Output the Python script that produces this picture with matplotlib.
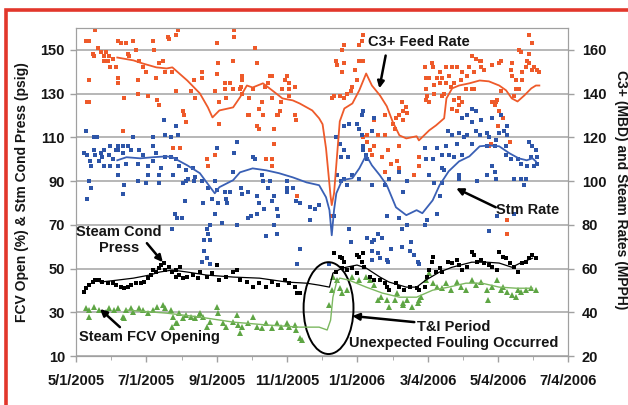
import numpy as np
import pandas as pd
import matplotlib
matplotlib.use("Agg")
import matplotlib.pyplot as plt
from matplotlib.patches import Ellipse, Rectangle

plt.rcParams['font.family'] = ['Liberation Sans', 'DejaVu Sans']
plt.rcParams['font.weight'] = 'bold'

# x values are days since 5/1/2005
start = pd.Timestamp("2005-05-01")
tick_labels = ["5/1/2005", "7/1/2005", "9/1/2005", "11/1/2005",
               "1/1/2006", "3/4/2006", "5/4/2006", "7/4/2006"]

# C3+ feed rate (MBD, right axis) - daily readings
c3_days = [17, 9, 11, 15, 16, 19, 22, 24, 24, 26, 28, 29, 30, 32, 35, 37, 39, 44, 45, 46,
           50, 52, 55, 58, 61, 67, 68, 72, 76, 78, 80, 81, 87, 89, 11, 11, 10, 37, 37, 42,
           54, 54, 63, 70, 71, 72, 84, 87, 93, 94, 96, 41, 85, 91, 100, 103, 104,
           138, 138, 123, 156, 137, 158, 124, 110, 110, 123, 145, 130, 134, 145, 144, 130, 121,
           137, 143, 145, 154, 169, 171, 184, 182, 186, 180, 186, 191, 186, 171, 165, 167,
           131, 125, 151, 162, 160, 179, 178, 176, 175, 191, 192, 150, 151, 163, 158, 160, 173,
           125, 173, 114, 115, 121, 166, 171, 171, 193,
           223, 250, 249, 247, 234, 232, 227, 228, 234, 232, 243, 247, 250, 245, 241, 240, 236,
           225, 230, 234, 223, 284, 288, 285, 289, 282, 279, 285, 269, 276, 278, 260, 263, 269,
           254, 250, 254, 256, 260, 267, 272, 258, 269, 275, 280, 282, 282, 299, 299, 295,
           310, 308, 305, 306, 312, 315, 317, 319, 305, 312, 304, 308, 311, 317, 332, 345, 352,
           353, 369, 380, 386, 395, 398, 395, 399, 402, 404, 395, 384, 386, 367, 369, 372, 366,
           334, 337, 332, 330, 305, 368, 362, 378, 360, 376, 376,
           349, 353, 328, 323, 325, 319, 337, 343, 347, 356, 341, 336, 323, 327, 340, 345, 347,
           321, 330, 334, 328, 363, 371, 379, 380, 389, 392, 393, 398, 389, 384, 382, 371, 363,
           365, 388]
c3_vals = [169, 164, 164, 158, 157, 161, 159, 157, 155, 159, 155, 157, 152, 156, 152, 164, 163, 163, 158, 157,
           164, 160, 155, 152, 150, 164, 160, 154, 155, 150, 166, 165, 167, 169, 146, 136, 136, 147, 145, 138,
           146, 140, 139, 147, 137, 135, 150, 141, 132, 130, 127, 123, 115, 115, 141, 146, 138,
           169, 166, 163, 161, 155, 154, 154, 150, 147, 149, 148, 145, 145, 146, 143, 142, 141,
           142, 142, 140, 142, 148, 148, 148, 146, 145, 142, 142, 143, 139, 138, 143, 145,
           138, 136, 138, 136, 133, 136, 132, 130, 130, 130, 128, 130, 130, 130, 125, 124, 124,
           126, 117, 110, 107, 112, 110, 110, 107, 93,
           84, 167, 164, 162, 162, 160, 155, 153, 154, 150, 151, 155, 155, 146, 143, 141, 140,
           139, 139, 138, 138, 136, 134, 132, 131, 130, 129, 128, 130, 126, 124, 128, 121, 121,
           121, 120, 118, 114, 116, 111, 114, 112, 104, 108, 109, 106, 116, 111, 107, 103,
           154, 147, 142, 139, 140, 147, 150, 139, 147, 144, 152, 136, 152, 145, 152, 157, 155,
           152, 154, 154, 160, 167, 163, 158, 152, 151, 150, 154, 146, 142, 137, 132, 129, 136,
           138, 136, 132, 145, 137, 125, 117, 118, 116, 82, 76,
           156, 155, 152, 152, 148, 147, 150, 152, 150, 151, 148, 146, 145, 143, 142, 142, 142,
           140, 137, 135, 133, 153, 155, 151, 148, 150, 152, 155, 151, 146, 142, 139, 141, 136,
           135, 159]

# Steam rate (MPPH, right axis)
stm_days = [9, 77, 87, 78, 83, 89, 16, 50, 67, 37, 41, 45, 30, 24, 67, 7, 10, 16, 17, 22,
            23, 29, 32, 35, 37, 41, 48, 55, 58, 70, 78, 83, 87, 20, 24, 30, 37, 44, 54, 63,
            67, 74, 90, 96, 13, 102, 104, 98, 103, 11, 13, 37, 54, 63, 72, 72, 85, 42, 61, 93,
            96, 12, 18,
            10, 41, 86, 88, 84, 92, 114, 115, 117, 112, 117, 95, 123,
            123, 140, 138, 137, 154, 156, 162, 163, 169, 110, 121, 184, 115, 130, 134, 144, 150,
            167, 184, 189, 119, 124, 131, 145, 158, 173, 184, 192, 195, 132, 160, 171, 164, 175,
            204, 212, 208, 111,
            127, 140, 150, 153, 158, 173, 175, 166, 176, 112, 114, 117, 110, 195, 193, 121, 204,
            250, 249, 234, 238, 245, 247, 249, 258, 260, 227, 230, 234, 231, 237, 250, 250, 253,
            254, 228, 231, 234, 236, 241, 247, 258, 269, 273, 289, 285, 282, 304, 305, 311, 315,
            312, 319, 308, 319, 317,
            221, 225, 238, 240, 254, 258, 260, 263, 267, 258, 263, 265, 258, 271, 272, 275, 284,
            291, 295, 298, 299, 271, 282, 284, 289, 292, 304, 315, 306,
            345, 349, 341, 337, 345, 353, 363, 371, 376, 373, 376, 369, 358, 352, 349, 341, 334,
            328, 324, 338, 360, 366, 345, 332, 323, 358, 365, 375, 395, 398, 401, 397, 402, 319,
            325, 330, 337, 375, 385, 379, 388, 393, 399, 402, 363, 365, 366, 382, 388, 392, 391,
            321, 334, 334, 350, 358, 367, 382, 360]
stm_vals = [123, 128, 125, 121, 120, 121, 120, 120, 120, 116, 116, 116, 116, 114, 116, 113, 112, 114, 112, 113,
            111, 112, 110, 114, 114, 113, 114, 114, 112, 113, 111, 111, 110, 109, 107, 107, 107, 108, 108, 107,
            109, 106, 107, 105, 107, 106, 102, 101, 100, 100, 97, 103, 100, 103, 103, 99, 103, 98, 99, 99,
            100, 109, 120,
            92, 94, 85, 83, 78, 83, 78, 76, 73, 73, 80, 91, 96,
            115, 118, 113, 104, 111, 110, 103, 100, 100, 100, 100, 100, 97, 95, 95, 97, 95,
            97, 97, 97, 92, 90, 92, 94, 93, 93, 95, 91, 90, 90, 90, 91, 87, 87,
            88, 89, 87, 90,
            81, 80, 83, 84, 85, 80, 76, 75, 84, 68, 65, 62, 63, 69, 62, 85, 82,
            132, 130, 125, 126, 126, 124, 121, 123, 129, 120, 117, 114, 111, 111, 116, 114, 112,
            110, 103, 100, 101, 98, 103, 101, 98, 98, 101, 100, 95, 104, 115, 110, 110, 115,
            99, 99, 103, 106, 93,
            62, 84, 78, 72, 74, 72, 73, 76, 74, 68, 67, 65, 64, 64, 63, 69, 70,
            68, 66, 63, 62, 84, 83, 78, 80, 72, 80, 85, 82,
            133, 132, 130, 129, 127, 128, 129, 130, 125, 123, 121, 122, 122, 121, 123, 121, 122,
            121, 123, 120, 120, 119, 117, 117, 116, 116, 116, 116, 118, 116, 114, 111, 111, 112,
            112, 111, 112, 112, 110, 110, 108, 107, 107, 108, 107, 104, 101, 101, 101, 101, 98,
            105, 103, 101, 100, 103, 84, 85, 77]

# Steam condensate pressure (psig, left axis)
cond_days = [7, 9, 11, 15, 17, 20, 23, 28, 32, 35, 39, 42, 45, 48, 52, 57, 59, 63, 65, 67,
             70, 72, 74, 77, 78, 81, 84, 87, 87, 90, 93, 97, 102, 106, 91, 108, 114, 119, 123, 125,
             131, 137, 140, 143, 149, 154, 160, 166, 171, 176, 182, 186, 191, 193, 195,
             225, 227, 230, 232, 232, 234, 236, 241, 245, 245, 247, 249, 250, 251, 256, 260, 265,
             269, 271, 273, 279, 282, 286, 291, 297, 299, 304, 306, 308, 310, 311, 314, 317, 319,
             324, 328, 332, 334, 337, 341, 345, 347, 350, 353, 356, 360, 363, 367, 369, 372, 375,
             378, 382, 385, 389, 392, 395, 398, 401]
cond_vals = [39.2, 41.0, 42.4, 43.8, 44.7, 44.7, 43.8, 43.3, 43.3, 42.4, 41.5, 41.0, 41.5, 42.4, 43.3, 43.3, 43.8, 45.6, 47.0, 49.3,
             48.4, 50.2, 51.6, 52.5, 49.3, 50.6, 48.4, 49.3, 46.1, 47.0, 45.6, 46.1, 47.0, 45.6, 50.6, 48.4, 46.1, 47.9, 51.6, 44.7,
             46.1, 48.4, 49.3, 44.7, 43.8, 41.5, 43.3, 41.5, 43.8, 42.4, 44.7, 43.3, 41.5, 38.8, 38.8,
             57.0, 48.4, 55.2, 50.2, 54.7, 52.9, 49.3, 50.2, 47.9, 56.1, 55.2, 52.9, 57.0, 50.6, 46.1, 44.7, 44.7,
             43.3, 41.5, 40.1, 43.3, 41.5, 40.1, 41.5, 41.0, 40.1, 41.5, 46.1, 49.3, 52.9, 55.2, 48.4, 50.2, 48.4,
             52.9, 52.5, 53.8, 51.6, 49.3, 50.6, 57.5, 56.1, 52.9, 53.8, 52.5, 51.6, 50.6, 49.3, 57.5, 55.2, 54.7,
             52.5, 50.6, 48.4, 52.5, 52.9, 54.7, 56.1, 54.7]

# Steam FCV opening (%, left axis)
fcv_days = [9, 11, 16, 20, 26, 29, 33, 37, 41, 44, 48, 50, 55, 58, 63, 67, 71, 76, 78, 83,
            85, 87, 90, 93, 96, 100, 104, 107, 11, 42, 108, 111, 114, 117, 123, 124, 128, 131, 137, 140,
            141, 143, 145, 150, 154, 158, 162, 166, 171, 175, 179, 184, 186, 191, 192, 195, 84, 88, 197,
            221, 223, 224, 228, 230, 232, 236, 241, 247, 253, 256, 260, 263, 266, 271, 273, 278, 280,
            285, 289, 293, 298, 301, 305, 308, 311, 315, 319, 285, 299, 323, 327, 332, 336, 340, 345,
            349, 353, 358, 359, 363, 367, 372, 376, 380, 384, 388, 392, 397, 401, 371, 385]
fcv_vals = [31.9, 31.0, 32.4, 31.0, 30.1, 31.9, 31.0, 31.9, 27.8, 31.0, 31.9, 30.1, 31.9, 31.0, 29.6, 31.0, 32.4, 33.3, 31.9, 31.0,
            27.8, 25.1, 29.6, 27.4, 28.7, 27.8, 27.4, 28.7, 27.8, 27.4, 29.6, 27.8, 23.2, 25.5, 32.4, 29.6, 25.1, 23.2, 25.5, 28.7,
            24.2, 20.5, 23.2, 25.1, 27.8, 23.2, 22.8, 25.1, 22.8, 25.1, 23.2, 25.1, 23.2, 24.2, 21.9, 18.2, 23.2, 25.1, 17.3,
            33.3, 40.1, 46.1, 44.7, 41.0, 38.8, 40.1, 46.1, 44.7, 46.1, 44.7, 42.4, 35.6, 36.9, 35.6, 32.4, 35.6, 38.8,
            34.2, 35.6, 32.4, 34.2, 36.9, 44.7, 47.9, 43.3, 41.5, 41.0, 33.3, 35.6, 43.3, 40.1, 43.8, 41.5, 40.1, 44.7,
            42.4, 43.8, 40.1, 35.6, 41.5, 44.7, 41.5, 39.2, 37.9, 36.9, 39.2, 40.1, 41.0, 40.1, 40.1, 40.1]

# moving-average trend lines
c3_avg_days = [36, 50, 58, 70, 79, 84, 97, 108, 115, 119, 125, 137, 143, 149, 154, 163, 171, 180, 189,
               195, 206, 212, 215, 218, 220, 222, 223, 225, 230, 234, 241, 247, 253, 258, 265, 271, 276,
               282, 288, 297, 299, 308, 314, 321, 323, 328, 334, 343, 352, 360, 369, 375, 380, 385, 391,
               397, 401, 404]
c3_avg = [156.5, 155.2, 153.8, 152.0, 151.5, 152.0, 146.0, 140.1, 133.7, 129.1, 132.3, 133.7, 138.3, 143.7,
          142.8, 144.7, 141.5, 137.8, 136.9, 135.5, 132.3, 128.7, 126.0, 115.0, 104.0, 93.0, 89.0, 94.4,
          127.3, 133.2, 135.5, 141.5, 149.2, 143.7, 139.2, 134.2, 127.3, 120.9, 119.5, 120.5, 118.6, 123.2,
          125.5, 128.7, 137.8, 142.4, 143.7, 144.7, 146.0, 145.6, 143.7, 141.5, 137.8, 136.4, 139.2, 142.4,
          143.7, 143.7]
stm_avg_days = [36, 44, 56, 67, 79, 84, 97, 108, 117, 121, 125, 137, 143, 154, 166, 177, 189, 201, 212,
                218, 221, 223, 225, 227, 232, 241, 247, 253, 258, 265, 271, 279, 288, 297, 302, 311, 317,
                325, 334, 343, 352, 360, 369, 378, 386, 393, 398, 401]
stm_avg = [109.5, 110.9, 110.4, 110.9, 111.3, 110.9, 107.2, 103.6, 97.2, 94.4, 97.2, 100.4, 104.0, 105.8,
           104.9, 103.6, 101.7, 99.4, 98.1, 92.6, 86.7, 75.2, 86.7, 94.4, 100.4, 101.3, 105.8, 111.8, 107.2,
           102.6, 98.1, 88.0, 84.4, 86.7, 85.3, 91.2, 98.1, 104.5, 109.0, 111.3, 115.9, 116.3, 115.9, 112.7,
           110.4, 109.5, 110.4, 109.0]
cond_avg_days = [21, 36, 50, 64, 73, 84, 97, 114, 137, 160, 184, 201, 212, 221, 224, 232, 245, 253, 265,
                 273, 288, 297, 305, 317, 328, 345, 358, 369, 380, 389, 398]
cond_avg = [43.8, 44.7, 45.6, 47.0, 48.4, 49.3, 48.4, 47.0, 46.1, 45.6, 43.8, 43.3, 42.4, 41.5, 47.9, 50.2,
            51.6, 50.2, 46.1, 43.8, 41.5, 41.5, 44.7, 48.4, 50.6, 52.9, 52.9, 52.5, 50.6, 52.9, 54.7]
fcv_avg_days = [44, 79, 108, 137, 166, 195, 212, 219, 222, 224, 227, 230, 238, 253, 267, 282, 297, 311,
                325, 340, 354, 369, 384, 398]
fcv_avg = [31.0, 29.6, 27.8, 25.5, 24.2, 23.2, 23.2, 21.9, 26.4, 36.9, 43.3, 45.6, 44.7, 41.5, 38.8, 36.9,
           36.9, 40.1, 41.5, 43.3, 43.3, 41.5, 41.0, 41.0]

orange = '#ee5a2a'
blue = '#2d55a8'
green = '#5ea544'
txt = '#151515'

fig = plt.figure(figsize=(6.28, 4.05), dpi=100)
ax = fig.add_axes([76 / 628, 49 / 405, 492 / 628, 328 / 405])
ax2 = ax.twinx()
ax.set_zorder(ax2.get_zorder() + 1)
ax.patch.set_visible(False)
ax2.patch.set_facecolor('#e9ecef')

# right-axis series
ax2.plot(c3_days, c3_vals, 's', color=orange, ms=3.0, mew=0)
ax2.plot(stm_days, stm_vals, 's', color=blue, ms=2.8, mew=0)
ax2.plot(c3_avg_days, c3_avg, color=orange, lw=1.3)
ax2.plot(stm_avg_days, stm_avg, color='#3a60b5', lw=1.3)

# left-axis series
ax.plot(fcv_days, fcv_vals, '^', color=green, ms=4.8, mew=0)
ax.plot(cond_days, cond_vals, 's', color='black', ms=3.4, mew=0)
ax.plot(cond_avg_days, cond_avg, color='black', lw=0.9)
ax.plot(fcv_avg_days, fcv_avg, color='#7cb860', lw=1.0)

ax.set_xlim(0, 429)
ax.set_ylim(10, 160)
ax2.set_ylim(20, 170)
ax.set_yticks(np.arange(10, 151, 20))
ax2.set_yticks(np.arange(20, 161, 20))
for v in np.arange(10, 151, 20):
    ax2.axhline(v + 10, color='#a3a3a3', lw=1.1, zorder=0)

tick_pos = [(pd.Timestamp(pd.to_datetime(t, format="%m/%d/%Y")) - start).days for t in tick_labels]
ax.set_xticks(tick_pos)
ax.set_xticklabels(tick_labels)
ax.set_xticks([(a + b) / 2 for a, b in zip(tick_pos[:-1], tick_pos[1:])], minor=True)

for a in (ax, ax2):
    for s in a.spines.values():
        s.set_color('#a0a0a0')
    a.tick_params(colors='#a0a0a0', labelcolor=txt, labelsize=10.5, width=1)
ax.tick_params(axis='y', length=4, pad=4)
ax2.tick_params(axis='y', length=4, pad=6)
ax.tick_params(axis='x', which='major', length=4, pad=9)
ax.tick_params(axis='x', which='minor', length=3, color='#a0a0a0')

fig.text(22 / 628, 1 - 192 / 405, "FCV Open (%) & Stm Cond Press (psig)", rotation=90,
         ha='center', va='center', fontsize=10, color=txt)
fig.text(621 / 628, 1 - 190 / 405, "C3+ (MBD) and Steam Rates (MPPH)", rotation=-90,
         ha='center', va='center', fontsize=10, color=txt)

arrow = dict(arrowstyle='-|>', color='black', lw=1.8, mutation_scale=10, shrinkA=0, shrinkB=0)
fs = 10.5
ax.text(299, 153.4, "C3+ Feed Rate", ha='center', va='center', fontsize=fs, color=txt)
ax.annotate("", xy=(264.5, 132.4), xytext=(270, 147.4), arrowprops=arrow)
ax.text(394, 76.7, "Stm Rate", ha='center', va='center', fontsize=fs, color=txt)
ax.annotate("", xy=(331.5, 86.7), xytext=(366, 78), arrowprops=arrow)
ax.text(37.4, 63, "Steam Cond\nPress", ha='center', va='center', fontsize=fs, color=txt,
        linespacing=1.25)
ax.annotate("", xy=(75.7, 52.9), xytext=(61.8, 61.6), arrowprops=arrow)
ax.text(64.4, 18.7, "Steam FCV Opening", ha='center', va='center', fontsize=fs, color=txt)
ax.annotate("", xy=(20.9, 31.5), xytext=(38.3, 23.2), arrowprops=arrow)
ax.text(329, 19.6, "T&I Period\nUnexpected Fouling Occurred", ha='center', va='center',
        fontsize=fs, color=txt, linespacing=1.25)
ax.annotate("", xy=(241, 28.3), xytext=(295, 25.5), arrowprops=arrow)
ax.add_patch(Ellipse((220.2, 31.9), 43.5, 42, fill=False, edgecolor='black', lw=1.4))

fig.patches.append(Rectangle((6 / 628, -0.2), 1.2, 0.975 + 0.2, transform=fig.transFigure,
                             fill=False, edgecolor='#e2372b', lw=2.6))

fig.savefig("out.png", dpi=100)
